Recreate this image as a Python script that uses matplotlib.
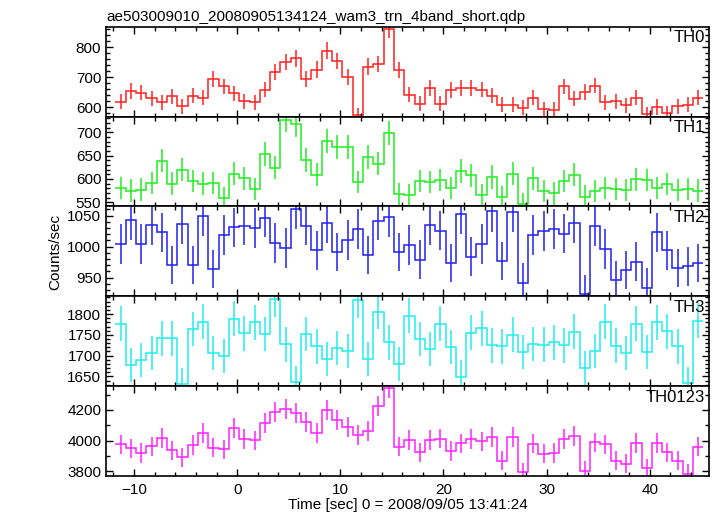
import numpy as np
import matplotlib.pyplot as plt
from matplotlib.ticker import MultipleLocator

plt.rcParams['font.family'] = ['Liberation Sans', 'DejaVu Sans']

# ---------------------------------------------------------------
# light curve bins (1 s bins)
# ---------------------------------------------------------------
first_edge = -11.8
bin_width = 1.0
n_bins = 57
edges = first_edge + bin_width * np.arange(n_bins + 1)
centers = edges[:-1] + bin_width / 2

# count rates (counts/sec) and errors
th0 = [618, 654, 648, 630, 616, 637, 604, 638, 631, 694,
       669, 646, 620, 617, 659, 716, 750, 762, 694, 725,
       787, 754, 701, 574, 735, 744, 860, 724, 641, 612,
       664, 612, 658, 663, 665, 659, 639, 609, 608, 599,
       631, 595, 592, 669, 629, 651, 672, 617, 620, 607,
       632, 578, 601, 581, 604, 608, 632]
th0_err = [25, 26, 25, 25, 25, 25, 25, 25, 25, 26,
           26, 25, 25, 25, 26, 27, 27, 28, 26, 27,
           28, 27, 26, 24, 27, 27, 29, 27, 25, 25,
           26, 25, 26, 26, 26, 26, 25, 25, 25, 24,
           25, 24, 24, 26, 25, 26, 26, 25, 25, 25,
           25, 24, 25, 24, 25, 25, 25]

th1 = [581, 575, 577, 592, 639, 590, 620, 596, 590, 592,
       559, 611, 601, 579, 654, 624, 727, 718, 641, 609,
       681, 669, 669, 594, 647, 633, 699, 568, 566, 595,
       593, 598, 581, 617, 608, 566, 604, 561, 611, 546,
       601, 574, 569, 596, 609, 562, 574, 581, 579, 576,
       599, 598, 581, 589, 576, 579, 575]
th1_err = [24, 24, 24, 24, 25, 24, 25, 24, 24, 24,
           24, 25, 25, 24, 26, 25, 27, 27, 25, 25,
           26, 26, 26, 24, 25, 25, 26, 24, 24, 24,
           24, 24, 24, 25, 25, 24, 25, 24, 25, 23,
           25, 24, 24, 24, 25, 24, 24, 24, 24, 24,
           24, 24, 24, 24, 24, 24, 24]

th2 = [1004, 1043, 1004, 1035, 1023, 970, 1037, 970, 1050, 964,
       1019, 1031, 1034, 1030, 1047, 1006, 998, 1061, 1034, 994,
       1038, 991, 1011, 1029, 987, 1042, 1048, 991, 1003, 979,
       1035, 1026, 974, 1052, 984, 1004, 1057, 977, 1056, 942,
       1019, 1025, 1028, 1021, 1038, 924, 1033, 996, 946, 962,
       976, 934, 1023, 994, 966, 968, 974]
th2_err = [32, 32, 32, 32, 32, 31, 32, 31, 32, 31,
           32, 32, 32, 32, 32, 32, 32, 33, 32, 32,
           32, 31, 32, 32, 31, 32, 32, 31, 32, 31,
           32, 32, 31, 32, 31, 32, 33, 31, 32, 31,
           32, 32, 32, 32, 32, 30, 32, 32, 31, 31,
           31, 31, 32, 32, 31, 31, 31]

th3 = [1777, 1677, 1689, 1707, 1742, 1742, 1631, 1764, 1781, 1707,
       1699, 1789, 1754, 1780, 1752, 1836, 1727, 1636, 1752, 1723,
       1691, 1718, 1711, 1833, 1691, 1805, 1732, 1680, 1796, 1740,
       1715, 1777, 1721, 1648, 1755, 1766, 1725, 1723, 1750, 1709,
       1728, 1726, 1732, 1725, 1757, 1670, 1711, 1782, 1724, 1707,
       1777, 1709, 1780, 1759, 1723, 1633, 1784]
th3_err = [42, 41, 41, 41, 42, 42, 40, 42, 42, 41,
           41, 42, 42, 42, 42, 43, 42, 40, 42, 42,
           41, 41, 41, 43, 41, 42, 42, 41, 42, 42,
           41, 42, 41, 41, 42, 42, 42, 42, 42, 41,
           42, 42, 42, 42, 42, 41, 41, 42, 42, 41,
           42, 41, 42, 42, 42, 40, 42]

th0123 = [3977, 3951, 3919, 3964, 4018, 3938, 3893, 3971, 4051, 3954,
          3943, 4081, 4010, 4003, 4114, 4185, 4204, 4178, 4120, 4051,
          4198, 4133, 4090, 4036, 4062, 4226, 4341, 3962, 4005, 3925,
          4005, 4014, 3934, 3982, 4010, 3995, 4023, 3869, 4023, 3794,
          3980, 3915, 3921, 4010, 4031, 3804, 3990, 3977, 3869, 3850,
          3986, 3820, 3986, 3925, 3869, 3785, 3962]
th0123_err = [63, 63, 63, 63, 63, 63, 62, 63, 64, 63,
              63, 64, 63, 63, 64, 65, 65, 65, 64, 64,
              65, 64, 64, 64, 64, 65, 66, 63, 63, 63,
              63, 63, 63, 63, 63, 63, 63, 62, 63, 62,
              63, 63, 63, 63, 63, 62, 63, 63, 62, 62,
              63, 62, 63, 63, 62, 62, 63]

band_names = ['TH0', 'TH1', 'TH2', 'TH3', 'TH0123']

# ---------------------------------------------------------------
# plot
# ---------------------------------------------------------------
panels = [
    (th0, th0_err, '#ff2020', (569, 867), 100, 20),
    (th1, th1_err, '#20ee20', (541, 734), 50, 10),
    (th2, th2_err, '#2020ee', (920, 1065), 50, 10),
    (th3, th3_err, '#20eeee', (1627, 1843), 50, 10),
    (th0123, th0123_err, '#ff20ff', (3772, 4356), 200, 100),
]

fig = plt.figure(figsize=(7.17, 5.16), dpi=100)
axes = fig.subplots(5, 1, sharex=True, gridspec_kw=dict(hspace=0))
fig.subplots_adjust(left=0.148, right=0.989, top=0.948, bottom=0.078)

for ax, name, (vals, errs, col, ylim, major, minor) in zip(axes, band_names, panels):
    ax.stairs(vals, edges, baseline=None, color=col, lw=1.1)
    ax.errorbar(centers, vals, yerr=errs, fmt='none', ecolor=col,
                elinewidth=1.1, capsize=0)
    ax.set_ylim(*ylim)
    ax.set_xlim(-12.7, 45.75)
    ax.yaxis.set_major_locator(MultipleLocator(major))
    ax.yaxis.set_minor_locator(MultipleLocator(minor))
    ax.xaxis.set_major_locator(MultipleLocator(10))
    ax.xaxis.set_minor_locator(MultipleLocator(2))
    ax.tick_params(which='both', direction='in', top=True, right=True,
                   labelsize=11, width=1.0)
    ax.tick_params(which='major', length=5)
    ax.tick_params(which='minor', length=3)
    ax.tick_params(axis='x', pad=5)
    for s in ax.spines.values():
        s.set_linewidth(1.2)
    ax.text(0.993, 0.96, name, transform=ax.transAxes, ha='right', va='top',
            fontsize=12)

axes[-1].set_xlabel('Time [sec] 0 = 2008/09/05 13:41:24', fontsize=11, labelpad=1)
fig.text(0.077, 0.512, 'Counts/sec', rotation=90, ha='center', va='center',
         fontsize=11)
fig.text(106 / 717, 1 - 21 / 516,
         'ae503009010_20080905134124_wam3_trn_4band_short.qdp',
         ha='left', va='baseline', fontsize=11)

fig.savefig('out.png', dpi=100)
